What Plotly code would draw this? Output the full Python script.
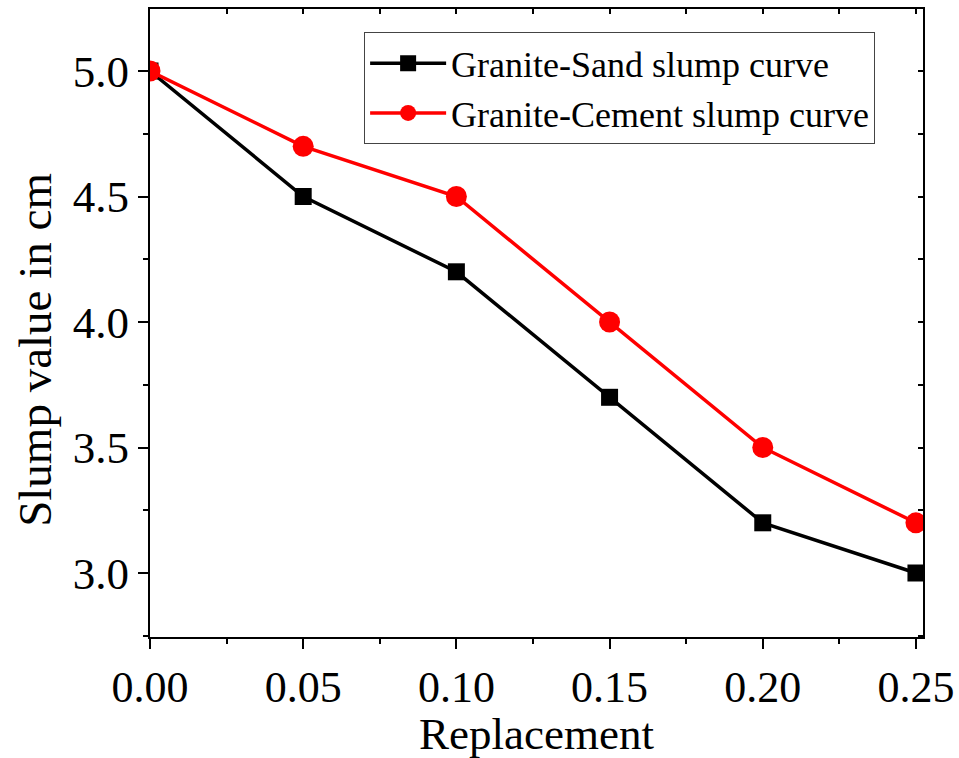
import plotly.graph_objects as go

replacement = [0.00, 0.05, 0.10, 0.15, 0.20, 0.25]
sand_slump = [5.0, 4.5, 4.2, 3.7, 3.2, 3.0]
cement_slump = [5.0, 4.7, 4.5, 4.0, 3.5, 3.2]
x_ticks = [0.00, 0.05, 0.10, 0.15, 0.20, 0.25]
y_ticks = [3.0, 3.5, 4.0, 4.5, 5.0]

FONT = "Liberation Serif, Times New Roman, serif"
XR = [0.0, 0.2523]
YR = [2.745, 5.247]

fig = go.Figure()
fig.add_trace(go.Scatter(
    x=replacement, y=sand_slump, mode="lines+markers",
    name="Granite-Sand slump curve",
    line=dict(color="black", width=3.5),
    marker=dict(symbol="square", size=17, color="black"),
))
fig.add_trace(go.Scatter(
    x=replacement, y=cement_slump, mode="lines+markers",
    name="Granite-Cement slump curve",
    line=dict(color="#ff0000", width=3.5),
    marker=dict(symbol="circle", size=21, color="#ff0000"),
))
fig.add_trace(go.Scatter(x=[None], y=[None], xaxis="x2", yaxis="y2",
                         showlegend=False, hoverinfo="skip"))

axis_common = dict(showgrid=False, zeroline=False, showline=True,
                   linecolor="black", linewidth=2, tickcolor="black",
                   tickwidth=2, automargin=False)

fig.update_layout(
    width=959, height=758,
    margin=dict(l=150, r=36, t=9, b=121),
    paper_bgcolor="white", plot_bgcolor="white",
    font=dict(family=FONT, color="black"),
    xaxis=dict(range=XR, tickvals=x_ticks, tickformat=".2f",
               ticks="outside", ticklen=10,
               tickfont=dict(size=44, family=FONT),
               minor=dict(ticks="outside", ticklen=5, tickwidth=2, tickcolor="black", dtick=0.025, tick0=0),
               **axis_common),
    yaxis=dict(range=YR, tickvals=y_ticks, tickformat=".1f",
               ticks="outside", ticklen=10,
               tickfont=dict(size=45, family=FONT),
               minor=dict(ticks="outside", ticklen=5, tickwidth=2, tickcolor="black", dtick=0.25, tick0=0),
               **axis_common),
    xaxis2=dict(range=XR, overlaying="x", side="top", anchor="y2",
                tickvals=x_ticks, ticks="inside", ticklen=5, showticklabels=False,
                minor=dict(ticks="inside", ticklen=5, tickwidth=2, tickcolor="black", dtick=0.025, tick0=0),
                **axis_common),
    yaxis2=dict(range=YR, overlaying="y", side="right", anchor="x2",
                tickvals=y_ticks, ticks="inside", ticklen=5, showticklabels=False,
                minor=dict(ticks="inside", ticklen=5, tickwidth=2, tickcolor="black", dtick=0.25, tick0=0),
                **axis_common),
    legend=dict(x=0.277, y=0.963, xanchor="left", yanchor="top",
                bgcolor="white", bordercolor="#444", borderwidth=1,
                itemwidth=76,
                font=dict(size=36, family=FONT), tracegroupgap=0),
    showlegend=True,
    annotations=[
        dict(text="Slump value in cm", textangle=-90,
             xref="paper", yref="paper", x=-0.149, y=0.457,
             xanchor="center", yanchor="middle", showarrow=False,
             font=dict(size=47, family=FONT, color="black")),
        dict(text="Replacement",
             xref="paper", yref="paper", x=0.5, y=-0.112,
             xanchor="center", yanchor="top", showarrow=False,
             font=dict(size=45, family=FONT, color="black")),
    ],
)

fig.write_html("out.html")
